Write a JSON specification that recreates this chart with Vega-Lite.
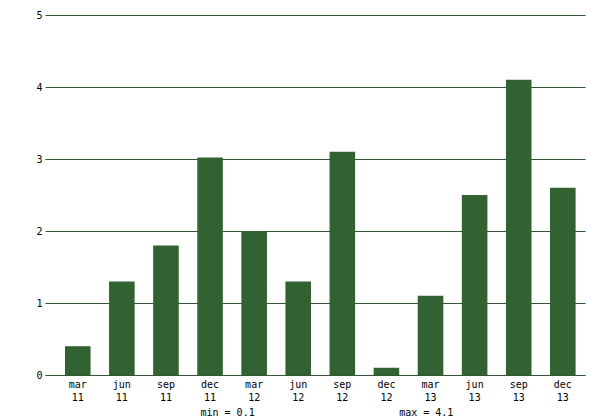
{
  "$schema": "https://vega.github.io/schema/vega-lite/v6.json",
  "width": 540,
  "height": 360,
  "autosize": {"type": "none"},
  "padding": {"left": 45, "top": 15, "right": 15, "bottom": 45},
  "background": "white",
  "config": {
    "view": {"stroke": null},
    "font": "DejaVu Sans Mono"
  },
  "data": {
    "values": [
      {"period": "mar 11", "value": 0.4},
      {"period": "jun 11", "value": 1.3},
      {"period": "sep 11", "value": 1.8},
      {"period": "dec 11", "value": 3.02},
      {"period": "mar 12", "value": 2.0},
      {"period": "jun 12", "value": 1.3},
      {"period": "sep 12", "value": 3.1},
      {"period": "dec 12", "value": 0.1},
      {"period": "mar 13", "value": 1.1},
      {"period": "jun 13", "value": 2.5},
      {"period": "sep 13", "value": 4.1},
      {"period": "dec 13", "value": 2.6}
    ]
  },
  "mark": {"type": "bar", "color": "#326232"},
  "encoding": {
    "x": {
      "field": "period",
      "type": "nominal",
      "sort": null,
      "scale": {"paddingInner": 0.42, "paddingOuter": 0.333, "align": 0.68},
      "axis": {
        "title": "min = 0.1\u00a0\u00a0\u00a0\u00a0\u00a0\u00a0\u00a0\u00a0\u00a0\u00a0\u00a0\u00a0\u00a0\u00a0\u00a0\u00a0\u00a0\u00a0\u00a0\u00a0\u00a0\u00a0\u00a0\u00a0max = 4.1",
        "titleFont": "DejaVu Sans Mono",
        "titleFontSize": 10,
        "titleFontWeight": "normal",
        "titleColor": "black",
        "titleAlign": "left",
        "titleAnchor": "start",
        "titleX": 155,
        "titleY": 40,
        "titleBaseline": "alphabetic",
        "labelExpr": "split(datum.label, ' ')",
        "labelAngle": 0,
        "labelFont": "DejaVu Sans Mono",
        "labelFontSize": 10,
        "labelColor": "black",
        "labelLineHeight": 13,
        "labelPadding": 4,
        "labelBaseline": "top",
        "ticks": false,
        "domain": true,
        "domainColor": "#335533",
        "grid": false
      }
    },
    "y": {
      "field": "value",
      "type": "quantitative",
      "scale": {"domain": [0, 5], "nice": false},
      "axis": {
        "title": null,
        "values": [0, 1, 2, 3, 4, 5],
        "labelFont": "DejaVu Sans Mono",
        "labelFontSize": 10,
        "labelColor": "black",
        "labelPadding": 3,
        "ticks": false,
        "domain": false,
        "grid": true,
        "gridColor": "#335533",
        "gridOpacity": 1
      }
    }
  }
}
